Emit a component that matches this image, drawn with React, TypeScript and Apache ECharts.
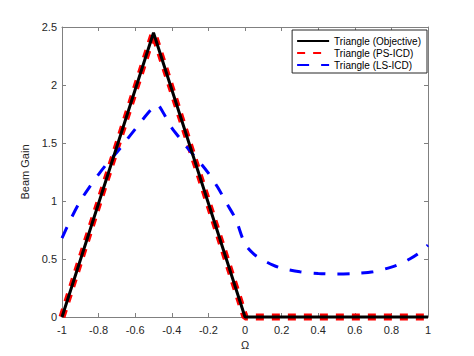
import React, { useEffect, useRef } from "react";
import * as echarts from "echarts";

const seriesNames = ["Triangle (Objective)", "Triangle (PS-ICD)", "Triangle (LS-ICD)"];

const objX = [-1, -0.5, 0, 1];
const objY = [0, 2.45, 0, 0];

const psX = [-1, -0.5, 0, 1];
const psY = [0, 2.45, 0, 0];

const lsX = [-1, -0.95, -0.9, -0.85, -0.8, -0.75, -0.7, -0.65, -0.6, -0.55, -0.5, -0.48, -0.45, -0.4, -0.35, -0.3, -0.25, -0.2, -0.15, -0.1, -0.05, 0, 0.05, 0.1, 0.15, 0.2, 0.3, 0.4, 0.5, 0.6, 0.7, 0.8, 0.85, 0.9, 0.95, 1];
const lsY = [0.68, 0.85, 1.0, 1.12, 1.23, 1.33, 1.42, 1.52, 1.62, 1.72, 1.81, 1.83, 1.77, 1.63, 1.53, 1.43, 1.34, 1.24, 1.12, 0.98, 0.84, 0.63, 0.54, 0.49, 0.45, 0.42, 0.39, 0.375, 0.37, 0.375, 0.39, 0.43, 0.46, 0.5, 0.55, 0.62];

const xTicks = { min: -1, max: 1, interval: 0.2 };
const yTicks = { min: 0, max: 2.5, interval: 0.5 };

const pairs = (xs: number[], ys: number[]) => xs.map((x, i) => [x, ys[i]]);

const textColor = "#262626";
const axisColor = "#808080";
const font = "Liberation Sans";

export default function App() {
  const ref = useRef<HTMLDivElement>(null);
  useEffect(() => {
    document.body.style.margin = "0";
    if (!ref.current) return;
    const chart = echarts.init(ref.current, undefined, { renderer: "svg" });
    const fmt = (v: number) => String(+v.toFixed(1));
    const axisLine = { show: true, onZero: false, lineStyle: { color: axisColor, width: 1 } };
    const axisTick = { show: true, inside: true, length: 4, lineStyle: { color: axisColor } };
    const baseX = {
      type: "value" as const,
      min: xTicks.min,
      max: xTicks.max,
      interval: xTicks.interval,
      splitLine: { show: false },
      axisLine,
      axisTick,
    };
    const baseY = {
      type: "value" as const,
      min: yTicks.min,
      max: yTicks.max,
      interval: yTicks.interval,
      splitLine: { show: false },
      axisLine,
      axisTick,
    };
    chart.setOption({
      animation: false,
      backgroundColor: "#ffffff",
      grid: { left: 62, right: 46, top: 27, bottom: 39, containLabel: false },
      legend: {
        data: seriesNames,
        orient: "vertical",
        right: 47,
        top: 30,
        backgroundColor: "#ffffff",
        borderColor: textColor,
        borderWidth: 1,
        borderRadius: 0,
        padding: [6, 6, 3, 4],
        itemWidth: 32,
        itemHeight: 10,
        itemGap: 2,
        itemStyle: { opacity: 0 },
        textStyle: { fontFamily: font, fontSize: 10, color: "#000" },
      },
      xAxis: [
        {
          ...baseX,
          position: "bottom",
          name: "Ω",
          nameLocation: "middle",
          nameGap: 20,
          nameTextStyle: { fontFamily: font, fontSize: 11, color: textColor },
          axisLabel: { fontFamily: font, fontSize: 11, color: textColor, margin: 7, formatter: fmt },
        },
        { ...baseX, position: "top", axisLabel: { show: false } },
      ],
      yAxis: [
        {
          ...baseY,
          position: "left",
          name: "Beam Gain",
          nameLocation: "middle",
          nameGap: 21,
          nameTextStyle: { fontFamily: font, fontSize: 11, color: textColor },
          axisLabel: { fontFamily: font, fontSize: 11, color: textColor, margin: 5, formatter: fmt },
        },
        { ...baseY, position: "right", axisLabel: { show: false } },
      ],
      series: [
        {
          name: seriesNames[1],
          type: "line",
          data: pairs(psX, psY),
          symbol: "none",
          clip: false,
          z: 2,
          color: "#ff0000",
          lineStyle: { color: "#ff0000", width: 7, type: [8, 8], cap: "butt" },
        },
        {
          name: seriesNames[2],
          type: "line",
          data: pairs(lsX, lsY),
          symbol: "none",
          smooth: 0.3,
          clip: false,
          z: 3,
          color: "#0000ff",
          lineStyle: { color: "#0000ff", width: 3, type: [12, 12], cap: "butt" },
        },
        {
          name: seriesNames[0],
          type: "line",
          data: pairs(objX, objY),
          symbol: "none",
          clip: false,
          z: 4,
          color: "#000000",
          lineStyle: { color: "#000000", width: 3 },
        },
      ],
    });
    return () => chart.dispose();
  }, []);
  return <div ref={ref} style={{ width: 474, height: 356 }} />;
}
